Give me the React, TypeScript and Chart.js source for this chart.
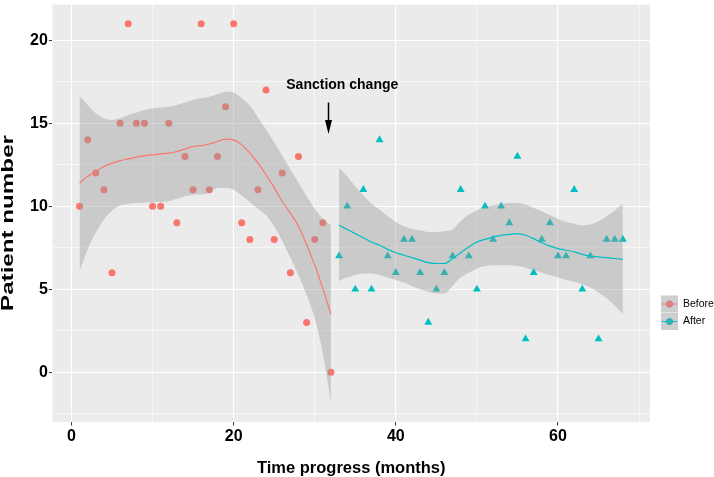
import React, { useEffect, useRef } from 'react';
import { Chart, registerables } from 'chart.js';

Chart.register(...registerables);

// ---------- data ----------
const beforeMonths = [1, 2, 3, 4, 5, 6, 7, 8, 9, 10, 11, 12, 13, 14, 15, 16, 17, 18, 19, 20, 21, 22, 23, 24, 25, 26, 27, 28, 29, 30, 31, 32];
const beforeCounts = [10, 14, 12, 11, 6, 15, 21, 15, 15, 10, 10, 15, 9, 13, 11, 21, 11, 13, 16, 21, 9, 8, 11, 17, 8, 12, 6, 13, 3, 8, 9, 0];
const beforeFit = [11.4, 11.8, 12.1, 12.4, 12.6, 12.75, 12.85, 12.95, 13.05, 13.1, 13.15, 13.2, 13.3, 13.45, 13.6, 13.65, 13.75, 13.9, 14.05, 14.0, 13.7, 13.2, 12.6, 11.9, 11.12, 10.3, 9.58, 8.8, 7.7, 6.45, 5.05, 3.5];
const beforeUpper = [16.65, 16.1, 15.6, 15.3, 15.2, 15.3, 15.5, 15.65, 15.8, 15.9, 15.95, 16.0, 16.1, 16.25, 16.4, 16.5, 16.6, 16.75, 16.9, 16.85, 16.5, 16.05, 15.35, 14.63, 13.85, 13.05, 12.23, 11.41, 10.6, 9.85, 9.25, 8.85];
const beforeLower = [6.1, 7.4, 8.4, 9.2, 9.75, 10.05, 10.15, 10.2, 10.22, 10.24, 10.25, 10.3, 10.45, 10.6, 10.7, 10.72, 10.8, 11.1, 11.1, 11.0, 10.65, 10.25, 9.85, 9.45, 8.8, 7.9, 6.9, 5.85, 4.65, 3.25, 1.15, -1.8];

const afterMonths = [33, 34, 35, 36, 37, 38, 39, 40, 41, 42, 43, 44, 45, 46, 47, 48, 49, 50, 51, 52, 53, 54, 55, 56, 57, 58, 59, 60, 61, 62, 63, 64, 65, 66, 67, 68];
const afterCounts = [7, 10, 5, 11, 5, 14, 7, 6, 8, 8, 6, 3, 5, 6, 7, 11, 7, 5, 10, 8, 10, 9, 13, 2, 6, 8, 9, 7, 7, 11, 5, 7, 2, 8, 8, 8];
const afterFit = [8.85, 8.6, 8.35, 8.1, 7.85, 7.65, 7.4, 7.2, 7.05, 6.9, 6.75, 6.6, 6.55, 6.55, 6.85, 7.2, 7.55, 7.85, 8.0, 8.15, 8.25, 8.3, 8.35, 8.25, 8.05, 7.8, 7.6, 7.45, 7.35, 7.25, 7.1, 7.0, 6.95, 6.9, 6.85, 6.8];
const afterUpper = [12.3, 11.8, 11.2, 10.65, 10.15, 9.8, 9.4, 9.05, 8.8, 8.65, 8.55, 8.45, 8.45, 8.5, 8.6, 9.1, 9.5, 9.75, 9.95, 10.05, 10.15, 10.2, 10.2, 10.1, 9.9, 9.7, 9.45, 9.25, 9.05, 8.95, 8.85, 8.9, 9.1, 9.4, 9.75, 10.15];
const afterLower = [5.5, 5.7, 5.85, 5.95, 5.95, 5.85, 5.7, 5.55, 5.4, 5.2, 5.0, 4.85, 4.75, 4.75, 5.2, 5.7, 6.0, 6.25, 6.4, 6.45, 6.45, 6.45, 6.4, 6.3, 6.15, 6.0, 5.85, 5.7, 5.55, 5.45, 5.3, 5.1, 4.8, 4.45, 4.0, 3.5];

const xMajorTicks = [0, 20, 40, 60];
const xMinorTicks = [10, 30, 50, 70];
const yMajorTicks = [0, 5, 10, 15, 20];
const yMinorTicks = [-2.5, 2.5, 7.5, 12.5, 17.5];

const seriesLabels = ['Before', 'After'];
const seriesColors = ['#F8766D', '#00BFC4'];

const xTitle = 'Time progress (months)';
const yTitle = 'Patient number';
const annotationText = 'Sanction change';
const annotationTextAt = { x: 33.4, y: 17.27 };
const arrowAt = { x: 31.7, from: 16.25, to: 14.36 };

const FONT = "'Liberation Sans', Arial, Helvetica, sans-serif";
const RIBBON = 'rgba(153,153,153,0.4)';

const toXY = (xs: number[], ys: number[]) => xs.map((x, i) => ({ x, y: ys[i] }));

const decorPlugin = {
  id: 'decor',
  beforeDraw(chart: any) {
    const { ctx, chartArea } = chart;
    ctx.save();
    ctx.fillStyle = '#EBEBEB';
    ctx.fillRect(chartArea.left, chartArea.top, chartArea.right - chartArea.left, chartArea.bottom - chartArea.top);
    ctx.restore();
  },
  afterDraw(chart: any) {
    const { ctx } = chart;
    const xs = chart.scales.x;
    const ys = chart.scales.y;
    // annotation text
    ctx.save();
    ctx.fillStyle = '#000';
    ctx.font = `bold 14px ${FONT}`;
    ctx.textAlign = 'center';
    ctx.textBaseline = 'middle';
    ctx.fillText(annotationText, xs.getPixelForValue(annotationTextAt.x), ys.getPixelForValue(annotationTextAt.y));
    // arrow
    const ax = xs.getPixelForValue(arrowAt.x);
    const y0 = ys.getPixelForValue(arrowAt.from);
    const y1 = ys.getPixelForValue(arrowAt.to);
    ctx.strokeStyle = '#000';
    ctx.lineWidth = 1.5;
    ctx.beginPath();
    ctx.moveTo(ax, y0);
    ctx.lineTo(ax, y1 - 10);
    ctx.stroke();
    ctx.beginPath();
    ctx.moveTo(ax, y1);
    ctx.lineTo(ax - 3.5, y1 - 14);
    ctx.lineTo(ax + 3.5, y1 - 14);
    ctx.closePath();
    ctx.fill();
    ctx.restore();

    // y title (rotated)
    ctx.save();
    ctx.translate(13.3, 223);
    ctx.rotate(-Math.PI / 2);
    ctx.font = `bold 17px ${FONT}`;
    const w = ctx.measureText(yTitle).width;
    ctx.scale(176 / w, 1);
    ctx.fillStyle = '#000';
    ctx.textAlign = 'center';
    ctx.textBaseline = 'alphabetic';
    ctx.fillText(yTitle, 0, 0);
    ctx.restore();

    // legend
    ctx.save();
    seriesLabels.forEach((label, i) => {
      const size = 17;
      const kx = 661;
      const cy = 304 + i * 17.5;
      const ky = cy - size / 2;
      ctx.fillStyle = '#F2F2F2';
      ctx.fillRect(kx, ky, size, size);
      ctx.fillStyle = seriesColors[i];
      ctx.beginPath();
      ctx.arc(kx + size / 2, cy, 3.5, 0, Math.PI * 2);
      ctx.fill();
      ctx.fillStyle = RIBBON;
      ctx.fillRect(kx, ky, size, size);
      ctx.strokeStyle = seriesColors[i];
      ctx.lineWidth = 1;
      ctx.beginPath();
      ctx.moveTo(kx + 1, cy);
      ctx.lineTo(kx + size - 1, cy);
      ctx.stroke();
      ctx.fillStyle = '#000';
      ctx.font = `10.5px ${FONT}`;
      ctx.textAlign = 'left';
      ctx.textBaseline = 'middle';
      ctx.fillText(label, kx + size + 5, cy);
    });
    ctx.restore();
  },
};

const lineCommon = {
  showLine: true,
  pointRadius: 0,
  pointHoverRadius: 0,
  cubicInterpolationMode: 'monotone' as const,
};

export default function App() {
  const ref = useRef<HTMLCanvasElement | null>(null);

  useEffect(() => {
    if (!ref.current) return;
    const isMajorX = (v: number) => xMajorTicks.includes(v);
    const isMajorY = (v: number) => yMajorTicks.includes(v);

    const chart = new Chart(ref.current, {
      type: 'line',
      data: {
        datasets: [
          {
            label: 'Before points',
            data: toXY(beforeMonths, beforeCounts),
            showLine: false,
            pointStyle: 'circle',
            pointRadius: 3.5,
            pointBackgroundColor: seriesColors[0],
            pointBorderWidth: 0,
            order: 3,
          },
          {
            label: 'After points',
            data: toXY(afterMonths, afterCounts),
            showLine: false,
            pointStyle: 'triangle',
            pointRadius: 4.6,
            pointBackgroundColor: seriesColors[1],
            pointBorderWidth: 0,
            order: 3,
          },
          {
            label: 'Before upper',
            data: toXY(beforeMonths, beforeUpper),
            ...lineCommon,
            borderWidth: 0,
            borderColor: 'rgba(0,0,0,0)',
            backgroundColor: RIBBON,
            fill: '+1',
            order: 2,
          },
          {
            label: 'Before lower',
            data: toXY(beforeMonths, beforeLower),
            ...lineCommon,
            borderWidth: 0,
            borderColor: 'rgba(0,0,0,0)',
            fill: false,
            order: 2,
          },
          {
            label: 'After upper',
            data: toXY(afterMonths, afterUpper),
            ...lineCommon,
            borderWidth: 0,
            borderColor: 'rgba(0,0,0,0)',
            backgroundColor: RIBBON,
            fill: '+1',
            order: 2,
          },
          {
            label: 'After lower',
            data: toXY(afterMonths, afterLower),
            ...lineCommon,
            borderWidth: 0,
            borderColor: 'rgba(0,0,0,0)',
            fill: false,
            order: 2,
          },
          {
            label: 'Before fit',
            data: toXY(beforeMonths, beforeFit),
            ...lineCommon,
            borderColor: seriesColors[0],
            borderWidth: 1.2,
            fill: false,
            order: 1,
          },
          {
            label: 'After fit',
            data: toXY(afterMonths, afterFit),
            ...lineCommon,
            borderColor: seriesColors[1],
            borderWidth: 1.2,
            fill: false,
            order: 1,
          },
        ],
      },
      options: {
        responsive: false,
        animation: false,
        devicePixelRatio: 1,
        events: [],
        layout: { padding: { left: 0, right: 64, top: 1, bottom: 0 } },
        plugins: {
          legend: { display: false },
          tooltip: { enabled: false },
          filler: { drawTime: 'beforeDatasetDraw' },
        },
        scales: {
          x: {
            type: 'linear',
            min: -2.35,
            max: 71.35,
            afterBuildTicks: (s: any) => {
              s.ticks = [...xMajorTicks, ...xMinorTicks].sort((a, b) => a - b).map((v) => ({ value: v }));
            },
            afterFit: (s: any) => {
              s.height = 55;
              s.paddingLeft = 0;
              s.paddingRight = 0;
            },
            border: { display: false },
            grid: {
              color: '#FFFFFF',
              lineWidth: (c: any) => (isMajorX(c.tick?.value) ? 1.1 : 0.55),
              tickColor: (c: any) => (isMajorX(c.tick?.value) ? '#333333' : 'rgba(0,0,0,0)'),
              tickLength: 3.5,
              tickWidth: 1,
            },
            ticks: {
              autoSkip: false,
              maxRotation: 0,
              padding: 1,
              color: '#000',
              font: { family: FONT, size: 16, weight: 'bold' },
              callback: (v: any) => (isMajorX(Number(v)) ? String(v) : ''),
            },
            title: {
              display: true,
              text: xTitle,
              color: '#000',
              font: { family: FONT, size: 16.5, weight: 'bold' },
              padding: { top: 0, bottom: -1 },
            },
          },
          y: {
            type: 'linear',
            min: -3.0,
            max: 22.15,
            afterBuildTicks: (s: any) => {
              s.ticks = [...yMajorTicks, ...yMinorTicks].sort((a, b) => a - b).map((v) => ({ value: v }));
            },
            afterFit: (s: any) => {
              s.width = 52.4;
              s.paddingTop = 0;
              s.paddingBottom = 0;
            },
            border: { display: false },
            grid: {
              color: '#FFFFFF',
              lineWidth: (c: any) => (isMajorY(c.tick?.value) ? 1.1 : 0.55),
              tickColor: (c: any) => (isMajorY(c.tick?.value) ? '#333333' : 'rgba(0,0,0,0)'),
              tickLength: 3.5,
              tickWidth: 1,
            },
            ticks: {
              autoSkip: false,
              padding: 1,
              color: '#000',
              font: { family: FONT, size: 16, weight: 'bold' },
              callback: (v: any) => (isMajorY(Number(v)) ? String(v) : ''),
            },
          },
        },
      } as any,
      plugins: [decorPlugin],
    });
    return () => chart.destroy();
  }, []);

  return (
    <div style={{ position: 'absolute', left: 0, top: 0, width: 714, height: 477, background: '#FFFFFF' }}>
      <canvas ref={ref} width={714} height={477} style={{ display: 'block', width: 714, height: 477 }} />
    </div>
  );
}
